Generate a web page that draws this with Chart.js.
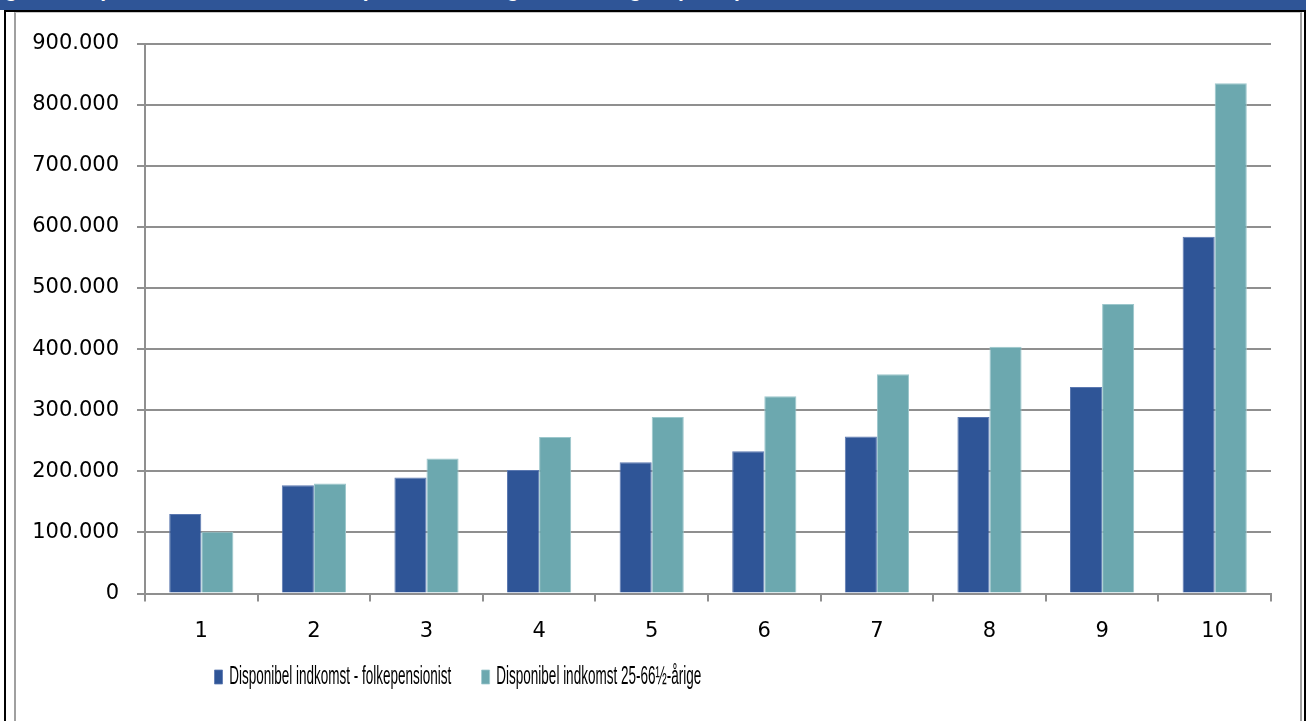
<!DOCTYPE html>
<html>
<head>
<meta charset="utf-8">
<script src="https://cdn.jsdelivr.net/npm/chart.js@4"></script>
<style>
  html, body { margin: 0; padding: 0; background: #fff; overflow: hidden; }
  #page { position: relative; width: 1306px; height: 721px; overflow: hidden; }
  #band { position: absolute; left: 0; top: 0; width: 1306px; height: 10px; background: #2F5597; overflow: hidden; }
  #band span { position: absolute; left: -14px; top: -22px; font: bold 21px 'Liberation Sans', sans-serif; color: #fff; white-space: nowrap; }
  #frame { position: absolute; left: 4px; top: 10px; width: 1298px; height: 720px; border-left: 2px solid #000; border-right: 2px solid #000; border-top: 2px solid #000; }
  #inner { position: absolute; left: 14px; top: 12px; width: 1284px; height: 720px; border-left: 2px solid #a0a0a0; border-right: 2px solid #a0a0a0; border-top: 1px solid #c8c8c8; }
  #wrap { position: absolute; left: 16px; top: 13px; width: 1284px; height: 700px; }
</style>
</head>
<body>
<div id="page">
  <div id="band"><span>Figur 5. Disponibel indkomst for folkepensionister og 25-66½-årige, opdelt på deciler</span></div>
  <div id="frame"></div>
  <div id="inner"></div>
  <div id="wrap"><canvas id="chart"></canvas></div>
</div>
<script>
// deciles on the x axis
const deciles = ['1', '2', '3', '4', '5', '6', '7', '8', '9', '10'];

// values (kr.)
const pensionist = [130000, 177000, 190000, 202000, 215000, 233000, 257000, 289000, 338000, 584000];
const working = [101000, 180000, 221000, 256000, 289000, 323000, 359000, 404000, 474000, 835000];

const seriesNames = ['Disponibel indkomst - folkepensionist', 'Disponibel indkomst 25-66½-årige'];

const yMax = 900000;
const yStep = 100000;

function fmtKr(v) {
    return v === 0 ? '0' : v.toLocaleString('da-DK');
}

const gridColor = '#8f8f8f';
const tickFont = { family: "'DejaVu Sans', sans-serif", size: 21 };

// the legend in the original is squeezed sideways, so draw it narrowed
const legendSqueeze = 0.54;
const legendShiftX = 103;
const legendShiftY = -47;
const legendHeight = 57.5;

const narrowLegend = {
    id: 'narrowLegend',
    beforeUpdate(chart) {
        const lg = chart.legend;
        if (!lg || lg._narrowed) return;
        lg._narrowed = true;
        const fit = lg.fit.bind(lg);
        lg.fit = function () { fit(); this.height = legendHeight; };
        // skip the legend's own clip box, the shifted items sit outside it
        const inner = (lg._draw || lg.draw).bind(lg);
        lg.draw = function () {
            const ctx = chart.ctx;
            ctx.save();
            ctx.translate(legendShiftX, legendShiftY);
            ctx.scale(legendSqueeze, 1);
            inner();
            ctx.restore();
        };
    }
};

new Chart(document.getElementById('chart'), {
    type: 'bar',
    data: {
        labels: deciles,
        datasets: [
            { label: seriesNames[0], data: pensionist, backgroundColor: '#2F5597', borderColor: '#5b78b0', borderWidth: 1, barPercentage: 1, categoryPercentage: 0.57 },
            { label: seriesNames[1], data: working, backgroundColor: '#6CA8AF', borderColor: '#9cc7cc', borderWidth: 1, barPercentage: 1, categoryPercentage: 0.57 }
        ]
    },
    plugins: [narrowLegend],
    options: {
        responsive: true,
        maintainAspectRatio: false,
        animation: false,
        layout: { padding: { top: 28, right: 29, left: 0, bottom: 0 } },
        plugins: {
            tooltip: { enabled: false },
            legend: {
                position: 'bottom',
                labels: {
                    color: '#000',
                    font: { family: "'Liberation Sans', sans-serif", size: 25 },
                    boxWidth: 14.8,
                    boxHeight: 14,
                    padding: 56,
                    useBorderRadius: false
                }
            }
        },
        scales: {
            x: {
                grid: { display: true, drawOnChartArea: false, drawTicks: true, tickLength: 8, color: gridColor, lineWidth: 2, offset: true },
                border: { display: true, color: gridColor, width: 2 },
                ticks: { color: '#000', font: tickFont, padding: 17, maxRotation: 0 },
                afterFit: s => { s.height = 62; }
            },
            y: {
                min: 0,
                max: yMax,
                grid: { color: gridColor, lineWidth: 2, drawTicks: true, tickLength: 8 },
                border: { display: true, color: gridColor, width: 2 },
                ticks: { stepSize: yStep, color: '#000', font: tickFont, padding: 18, callback: v => fmtKr(v) },
                afterFit: s => { s.width = 129; }
            }
        }
    }
});
</script>
</body>
</html>
